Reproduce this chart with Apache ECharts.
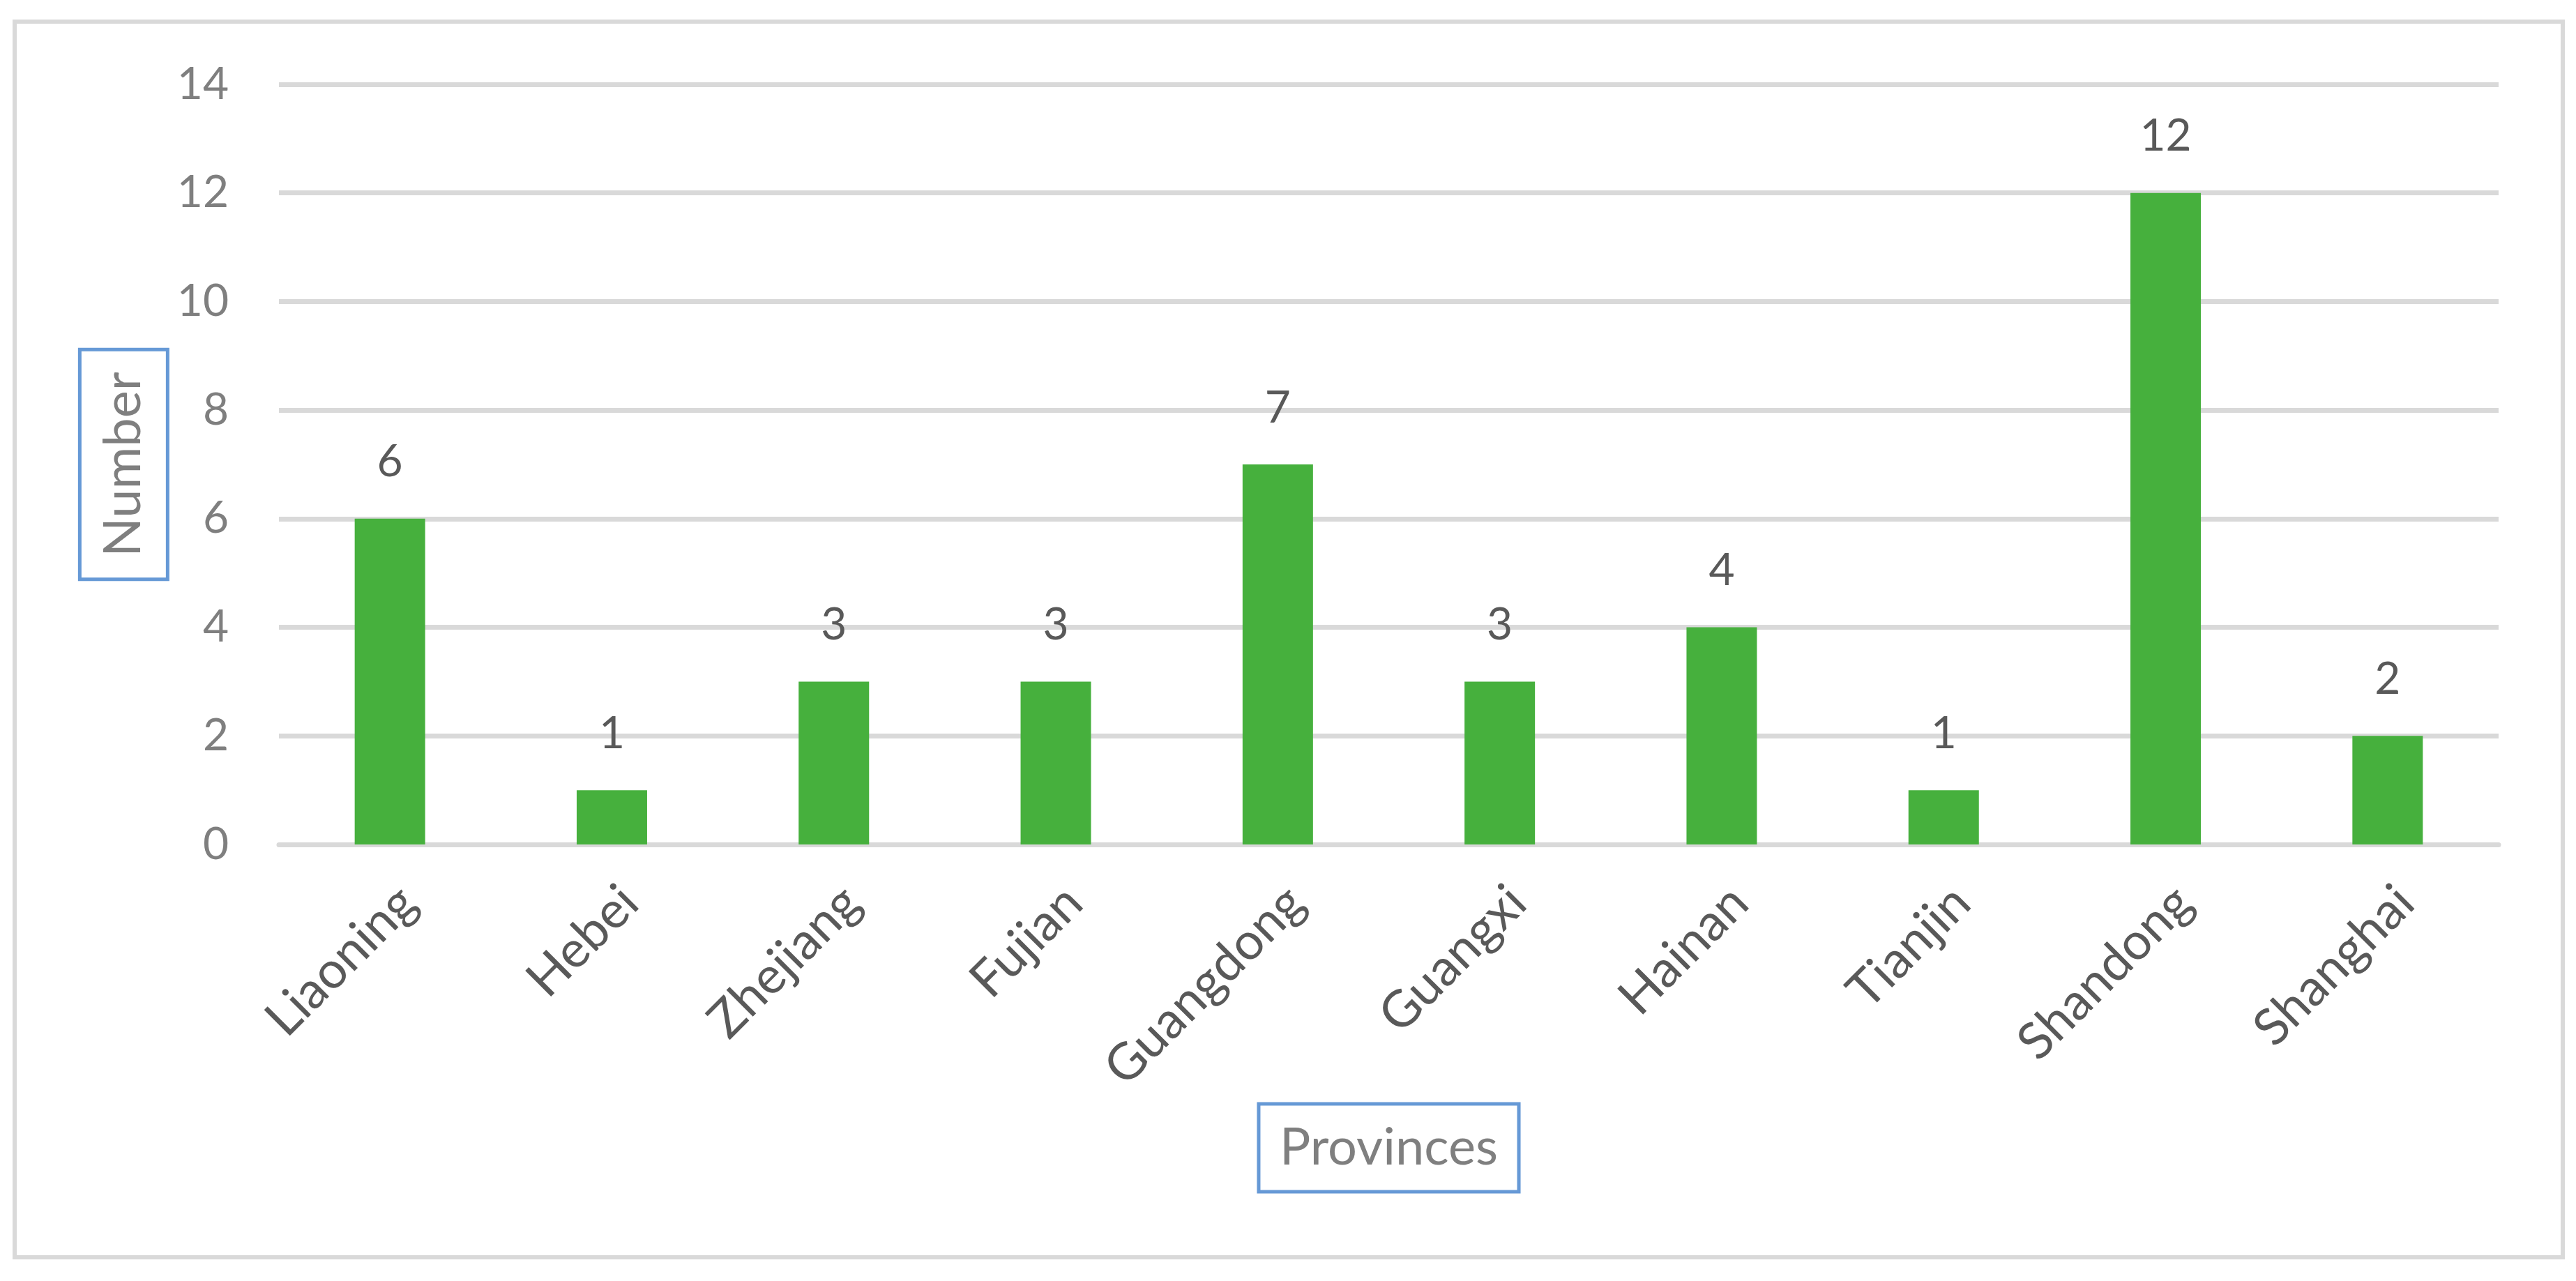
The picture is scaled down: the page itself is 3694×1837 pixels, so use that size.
<!DOCTYPE html>
<html>
<head>
<meta charset="utf-8">
<style>
  html, body { margin: 0; padding: 0; background: #ffffff; }
  #chart { width: 3694px; height: 1837px; }
</style>
<script src="https://cdn.jsdelivr.net/npm/echarts@6/dist/echarts.min.js"></script>
</head>
<body>
<div id="chart"></div>
<script>
const categories = ['Liaoning', 'Hebei', 'Zhejiang', 'Fujian', 'Guangdong', 'Guangxi', 'Hainan', 'Tianjin', 'Shandong', 'Shanghai'];
const values = [6, 1, 3, 3, 7, 3, 4, 1, 12, 2];
const yMin = 0, yMax = 14, yStep = 2;
const xTitle = 'Provinces';
const yTitle = 'Number';

const FONT = 'Lato';
const chart = echarts.init(document.getElementById('chart'), null, { renderer: 'canvas' });
chart.setOption({
  backgroundColor: '#ffffff',
  animation: false,
  graphic: [{
    type: 'rect',
    shape: { x: 21, y: 31, width: 3654, height: 1772 },
    style: { fill: 'none', stroke: '#d9d9d9', lineWidth: 6 },
    silent: true
  }],
  grid: { left: 400, right: 111, top: 121, bottom: 626, containLabel: false },
  xAxis: {
    type: 'category',
    data: categories,
    axisLine: { show: true, lineStyle: { color: '#d9d9d9', width: 7 } },
    axisTick: { show: false },
    axisLabel: {
      rotate: 45, interval: 0, margin: 46, verticalAlign: 'top',
      color: '#595959', fontFamily: FONT, fontSize: 73
    },
    name: xTitle,
    nameLocation: 'middle',
    nameGap: 372,
    nameTextStyle: {
      color: '#7f7f7f', fontFamily: FONT, fontSize: 74, lineHeight: 74,
      borderColor: '#6699d6', borderWidth: 5, padding: [26, 30, 26, 30]
    }
  },
  yAxis: {
    type: 'value',
    min: yMin, max: yMax, interval: yStep,
    axisLine: { show: false },
    axisTick: { show: false },
    splitLine: { show: true, lineStyle: { color: '#d9d9d9', width: 7 } },
    axisLabel: { margin: 72, color: '#7f7f7f', fontFamily: FONT, fontSize: 64 },
    name: yTitle,
    nameLocation: 'middle',
    nameRotate: 90,
    nameGap: 155,
    nameTextStyle: {
      color: '#7f7f7f', fontFamily: FONT, fontSize: 74, lineHeight: 74,
      borderColor: '#6699d6', borderWidth: 5, padding: [26, 32, 26, 32]
    }
  },
  series: [{
    type: 'bar',
    data: values,
    barWidth: 101,
    itemStyle: { color: '#46b03d' },
    label: {
      show: true, position: 'top', distance: 49,
      color: '#595959', fontFamily: FONT, fontSize: 64, lineHeight: 64
    }
  }]
});
</script>
</body>
</html>
